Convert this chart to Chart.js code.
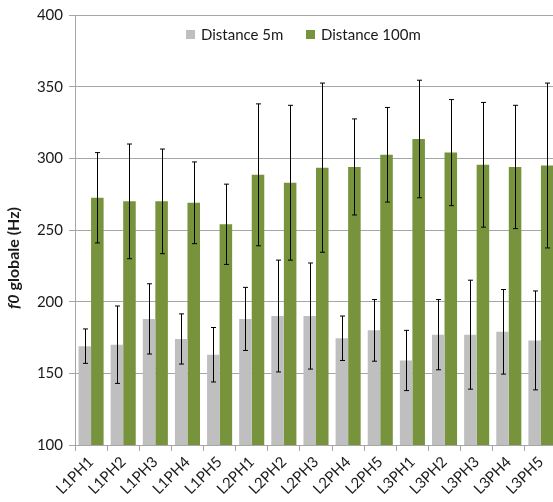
<!DOCTYPE html>
<html>
<head>
<meta charset="utf-8">
<script src="https://cdn.jsdelivr.net/npm/chart.js@4"></script>
<style>
  html, body { margin: 0; padding: 0; background: #fff; overflow: hidden; }
  #wrap { width: 560px; height: 502px; }
</style>
</head>
<body>
<div id="wrap"><canvas id="f0Chart"></canvas></div>
<script>
// f0 globale par phrase, distance 5m vs 100m (moyenne +/- écart-type)
const categories = ['L1PH1', 'L1PH2', 'L1PH3', 'L1PH4', 'L1PH5',
                    'L2PH1', 'L2PH2', 'L2PH3', 'L2PH4', 'L2PH5',
                    'L3PH1', 'L3PH2', 'L3PH3', 'L3PH4', 'L3PH5'];
const dist5 = [169, 170, 188, 174, 163, 188, 190, 190, 174.5, 180, 159, 177, 177, 179, 173];
const err5 = [12, 27, 24.5, 17.5, 19, 22, 39, 37, 15.5, 21.5, 21, 24.5, 38, 29.5, 34.5];
const dist100 = [272.5, 270, 270, 269, 254, 288.5, 283, 293.5, 294, 302.5, 313.5, 304, 295.5, 294, 295];
const err100 = [31.5, 40, 36.5, 28.5, 28, 49.5, 54, 59, 33.5, 33, 41, 37, 43.5, 43, 57.5];
const yTicks = [100, 150, 200, 250, 300, 350, 400];

const FONT = 'Lato, "Open Sans", sans-serif';
const TEXT = '#1a1a1a';

// barres d'erreur dessinées sur l'échelle y
const errorBars = {
    id: 'errorBars',
    afterDatasetsDraw(chart) {
        const ctx = chart.ctx;
        const y = chart.scales.y;
        ctx.save();
        ctx.strokeStyle = '#000';
        ctx.lineWidth = 1;
        chart.data.datasets.forEach((ds, i) => {
            const meta = chart.getDatasetMeta(i);
            meta.data.forEach((bar, j) => {
                const v = ds.data[j], e = ds.errors[j];
                const x = Math.round(bar.x) + 0.5;
                const top = y.getPixelForValue(v + e);
                const bot = y.getPixelForValue(v - e);
                ctx.beginPath();
                ctx.moveTo(x, top); ctx.lineTo(x, bot);
                ctx.moveTo(x - 2.5, top); ctx.lineTo(x + 2.5, top);
                ctx.moveTo(x - 2.5, bot); ctx.lineTo(x + 2.5, bot);
                ctx.stroke();
            });
        });
        ctx.restore();
    }
};

// légende dans la zone du graphique + titre de l'axe y
const extras = {
    id: 'extras',
    afterDraw(chart) {
        const ctx = chart.ctx;
        ctx.save();
        ctx.font = '15px ' + FONT;
        ctx.textBaseline = 'middle';
        const items = [{ x: 186, ds: chart.data.datasets[0] }, { x: 306, ds: chart.data.datasets[1] }];
        items.forEach(it => {
            ctx.fillStyle = it.ds.backgroundColor;
            ctx.fillRect(it.x, 30, 9, 9);
            ctx.fillStyle = TEXT;
            ctx.textAlign = 'left';
            ctx.fillText(it.ds.label, it.x + 15, 35);
        });

        ctx.translate(14, 258);
        ctx.rotate(-Math.PI / 2);
        const a = 'f0', b = ' globale (Hz)';
        ctx.font = 'italic bold 16px ' + FONT;
        const wa = ctx.measureText(a).width;
        ctx.font = 'bold 16px ' + FONT;
        const wb = ctx.measureText(b).width;
        let sx = -(wa + wb) / 2;
        ctx.textAlign = 'left';
        ctx.fillStyle = TEXT;
        ctx.font = 'italic bold 16px ' + FONT;
        ctx.fillText(a, sx, 0);
        ctx.font = 'bold 16px ' + FONT;
        ctx.fillText(b, sx + wa, 0);
        ctx.restore();
    }
};

document.addEventListener('DOMContentLoaded', () => {
    const ctx = document.getElementById('f0Chart').getContext('2d');

    new Chart(ctx, {
        type: 'bar',
        data: {
            labels: categories,
            datasets: [
                {
                    label: 'Distance 5m',
                    data: dist5,
                    errors: err5,
                    backgroundColor: '#BFBFBF',
                    categoryPercentage: 0.78,
                    barPercentage: 1
                },
                {
                    label: 'Distance 100m',
                    data: dist100,
                    errors: err100,
                    backgroundColor: '#77933C',
                    categoryPercentage: 0.78,
                    barPercentage: 1
                }
            ]
        },
        options: {
            responsive: true,
            maintainAspectRatio: false,
            animation: false,
            layout: { padding: { top: 15, right: 3, bottom: 2, left: 0 } },
            plugins: {
                legend: { display: false },
                tooltip: { enabled: false }
            },
            scales: {
                x: {
                    grid: {
                        offset: true,
                        drawOnChartArea: false,
                        drawTicks: true,
                        tickLength: 6,
                        color: '#A6A6A6'
                    },
                    border: { color: '#A6A6A6' },
                    ticks: {
                        minRotation: 45,
                        maxRotation: 45,
                        color: TEXT,
                        font: { family: FONT, size: 15 },
                        padding: 2
                    }
                },
                y: {
                    min: 100,
                    max: 400,
                    afterFit(scale) { scale.width = 75; },
                    afterBuildTicks(scale) { scale.ticks = yTicks.map(v => ({ value: v })); },
                    grid: { color: '#A6A6A6', tickLength: 6 },
                    border: { color: '#A6A6A6' },
                    ticks: {
                        color: TEXT,
                        font: { family: FONT, size: 15 },
                        padding: 6
                    }
                }
            }
        },
        plugins: [errorBars, extras]
    });
});
</script>
</body>
</html>
